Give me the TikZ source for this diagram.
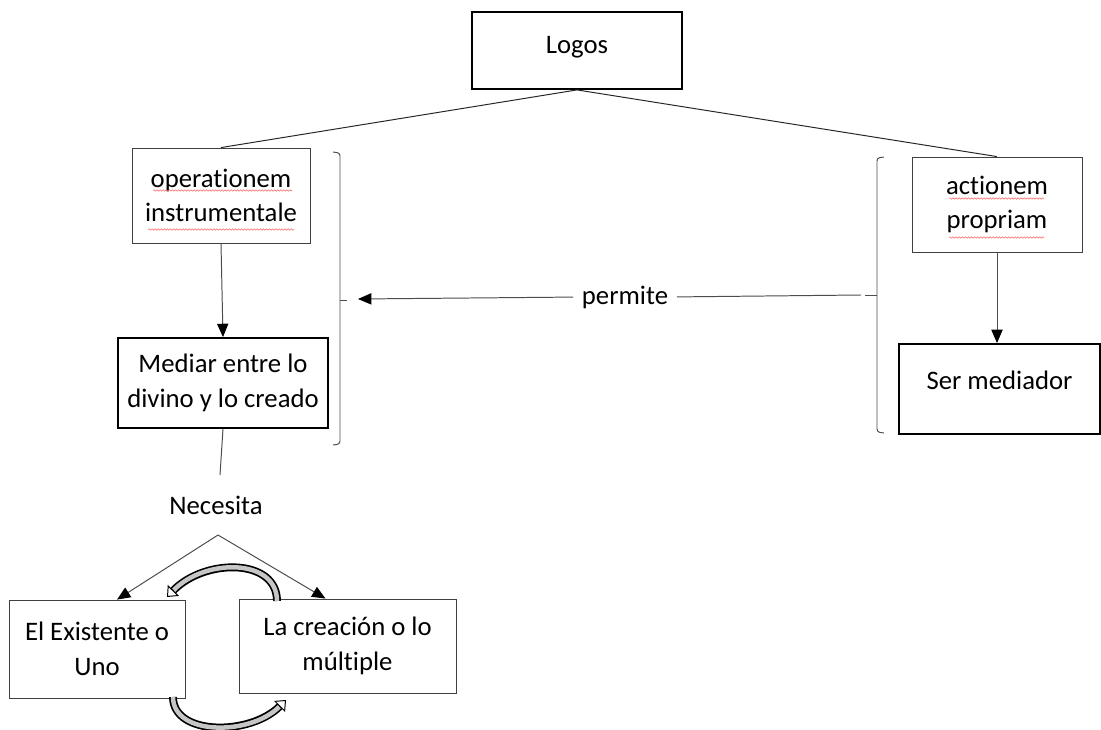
\documentclass[tikz,border=0pt]{standalone}
\usepackage{fontspec}
\setmainfont{Carlito}[Ligatures=NoCommon]
\usepackage{tikz}
\usetikzlibrary{arrows.meta,calc,decorations.pathmorphing}

\begin{document}
\begin{tikzpicture}[x=0.025cm, y=-0.025cm, >=Triangle,
    every node/.style={font=\fontsize{19}{24.5}\selectfont, align=center, inner sep=0pt},
    thinbox/.style={draw=black!75, line width=0.6pt},
    thickbox/.style={draw=black, line width=1.3pt},
    conn/.style={draw=black!70, line width=0.7pt},
    arr/.style={conn, -{Triangle[length=9.5pt, width=8pt, color=black]}},
    brk/.style={draw=black!70, line width=0.7pt, rounded corners=2pt},
    band/.style={line width=5.6pt, -{Triangle[fill=white, line width=0.7pt, length=6.5pt, width=11pt]}},
    bandfill/.style={line width=3.2pt, gray!45, shorten >=6.8pt},
    spell/.style={red!60, line width=0.4pt, decorate, decoration={snake, amplitude=0.5pt, segment length=2.2pt}}]
  \useasboundingbox (0,0) rectangle (1101,730);
  % boxes
  \node[thickbox, minimum width=210*0.025cm, minimum height=77*0.025cm,
        label={[yshift=2.5pt]center:Logos}] (logos) at (577,50.5) {};
  \node[thinbox, minimum width=178*0.025cm, minimum height=95*0.025cm] (oper) at (221,195.5) {operationem\\instrumentale};
  \node[thickbox, minimum width=210*0.025cm, minimum height=90*0.025cm] (mediar) at (223,383) {Mediar entre lo\\divino y lo creado};
  \node[thinbox, minimum width=170*0.025cm, minimum height=95*0.025cm] (action) at (997,204.5) {actionem\\propriam};
  \node[thickbox, minimum width=201*0.025cm, minimum height=90*0.025cm,
        label={[yshift=6.4pt]center:Ser mediador}] (sermed) at (999.5,389) {};
  \node[thinbox, minimum width=176*0.025cm, minimum height=98*0.025cm] (exist) at (97,649) {El Existente o\\Uno};
  \node[thinbox, minimum width=217*0.025cm, minimum height=94*0.025cm] (creac) at (347.5,646) {La creación o lo\\múltiple};
  % labels
  \node (necesita) at (216,505) {Necesita};
  \node (permite) at (625,297) {permite};
  % named points
  \coordinate (nectop) at (220,475);
  \coordinate (fork) at (218,535);
  \coordinate (ltip) at (358,299);
  \coordinate (rend) at (861,295);

  \draw[conn, draw=black!85] (logos.south) -- (oper.north);
  \draw[conn, draw=black!85] (logos.south) -- (action.north);
  \draw[arr] (oper.south) -- (mediar.north);
  \draw[arr] (action.south) -- (action.south |- sermed.north);
  \draw[conn] (mediar.south) -- (nectop);
  \draw[arr] (fork) -- ($(exist.north)+(20,0)$);
  \draw[arr] (fork) -- ($(creac.north)+(-22,0)$);
  \draw[arr, shorten <=6pt] (permite.west) -- (ltip);
  \draw[conn, shorten <=6pt] (permite.east) -- (rend);

  % spell-check underlines
  \draw[spell] ($(oper)+(-68,-5)$) -- ($(oper)+(71,-5)$);
  \draw[spell] ($(oper)+(-73,34)$) -- ($(oper)+(73,34)$);
  \draw[spell] ($(action)+(-48,-6)$) -- ($(action)+(47,-6)$);
  \draw[spell] ($(action)+(-48,33)$) -- ($(action)+(47,33)$);

  % brackets
  \draw[brk] (333,152) -- (340,153) -- (340,444) -- (333,445);
  \draw[brk] (340,300) -- (347,300);
  \draw[brk] (884,157) -- (877,158) -- (877,432) -- (884,433);
  \draw[brk] (877,295) -- (865,295);

  % curved block arrows
  \draw[band] (277,601) .. controls (277,558) and (205,558) .. (167,597);
  \draw[bandfill] (277,601) .. controls (277,558) and (205,558) .. (167,597);
  \draw[band] (173,697) .. controls (173,736) and (250,736) .. (286,700);
  \draw[bandfill] (173,697) .. controls (173,736) and (250,736) .. (286,700);
\end{tikzpicture}
\end{document}
